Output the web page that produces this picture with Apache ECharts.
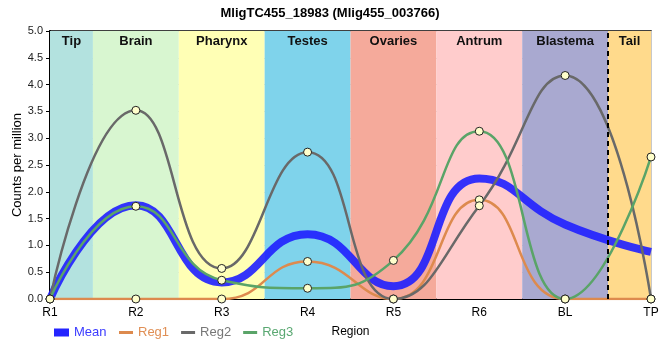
<!DOCTYPE html>
<html><head><meta charset="utf-8">
<script src="https://cdn.jsdelivr.net/npm/echarts@6/dist/echarts.min.js"></script>
<style>html,body{margin:0;padding:0;background:#fff}#c{width:660px;height:360px}</style>
</head><body><div id="c"></div>
<script>
const categories = ['R1','R2','R3','R4','R5','R6','BL','TP'];
const meanVals = [0, 1.75, 0.31, 1.21, 0.24, 2.25, 1.39, 0.88];
const reg1Vals = [0, 0, 0, 0.70, 0, 1.85, 0, 0];
const reg2Vals = [0, 3.52, 0.57, 2.74, 0, 1.74, 4.17, 0];
const reg3Vals = [0, 1.73, 0.35, 0.20, 0.72, 3.13, 0, 2.65];
const regionNames = ['Tip','Brain','Pharynx','Testes','Ovaries','Antrum','Blastema','Tail'];
const regionStart = [0, 0.5, 1.5, 2.5, 3.5, 4.5, 5.5, 6.5];
const regionEnd = [0.5, 1.5, 2.5, 3.5, 4.5, 5.5, 6.5, 7];
const regionColors = ['#b3e2df','#d8f6d0','#ffffb5','#7fd3eb','#f5aa9b','#ffcccc','#a9a9d0','#ffda8c'];
const dashedAt = 6.5;

const toPts = arr => arr.map((v,i)=>[i,v]);
const FONT = 'Liberation Sans, Arial, sans-serif';

const chart = echarts.init(document.getElementById('c'), null, {renderer:'canvas'});
const bandData = regionNames.map((n,i)=>[
  {xAxis: regionStart[i], name: n, itemStyle:{color: regionColors[i], opacity:1}},
  {xAxis: regionEnd[i]}
]);
function regSeries(name, vals, color){
  return {name, type:'line', data: toPts(vals), smooth:0.5, symbol:'circle', symbolSize:8,
    showSymbol:true, color, lineStyle:{color, width:2.5}, itemStyle:{color:'#ffffcc', borderColor:'#222', borderWidth:1},
    emphasis:{disabled:true}, z:3};
}
chart.setOption({
  animation:false,
  backgroundColor:'#fff',
  textStyle:{fontFamily:FONT},
  title:{text:'MligTC455_18983 (Mlig455_003766)', left:'center', top:2,
    textStyle:{fontSize:13, fontWeight:'bold', color:'#000', fontFamily:FONT}},
  grid:{left:50, right:9, top:31, bottom:61, containLabel:false, outerBoundsMode:'none',
    show:true, borderColor:'#000', borderWidth:1.5, backgroundColor:'transparent'},
  legend:[
    {left:49, top:321, itemWidth:15, itemHeight:8, itemGap:12,
      textStyle:{fontSize:13, fontFamily:FONT},
      data:[{name:'Mean', icon:'rect', itemStyle:{color:'#2424ff'}, textStyle:{color:'#3b3bff'}}]},
    {left:114, top:321, itemWidth:14, itemHeight:3, itemGap:12,
      textStyle:{fontSize:13, fontFamily:FONT},
      data:[
        {name:'Reg1', icon:'rect', itemStyle:{color:'#dd8a4e', borderWidth:0}, textStyle:{color:'#e08f55'}},
        {name:'Reg2', icon:'rect', itemStyle:{color:'#696969', borderWidth:0}, textStyle:{color:'#777777'}},
        {name:'Reg3', icon:'rect', itemStyle:{color:'#5aa468', borderWidth:0}, textStyle:{color:'#5aa872'}}
      ]}
  ],
  xAxis:{type:'value', min:0, max:7, interval:1,
    name:'Region', nameLocation:'middle', nameGap:27, nameMoveOverlap:false,
    nameTextStyle:{fontSize:12, color:'#000', fontFamily:FONT},
    axisLine:{show:true, onZero:false, lineStyle:{color:'#000', width:2}},
    axisTick:{show:false},
    axisLabel:{formatter:v=>categories[v]||'', fontSize:12, color:'#000', margin:8, fontFamily:FONT},
    splitLine:{show:true, lineStyle:{color:'#c8c8c8', width:1}}},
  yAxis:{type:'value', min:0, max:5, interval:0.5,
    name:'Counts per million', nameLocation:'middle', nameGap:26, nameMoveOverlap:false,
    nameTextStyle:{fontSize:13, color:'#000', fontFamily:FONT},
    axisLine:{show:true, lineStyle:{color:'#000', width:2}},
    axisTick:{show:true, length:4, lineStyle:{color:'#000'}},
    axisLabel:{formatter:v=>v.toFixed(1), fontSize:11, color:'#222', margin:7, fontFamily:FONT},
    splitLine:{show:true, lineStyle:{color:'#c8c8c8', width:1}}},
  series:[
    {name:'bands', type:'line', data:[], silent:true, z:1,
      markArea:{silent:true, label:{show:true, position:'insideTop', distance:4, fontSize:13, fontWeight:'bold', color:'#111', fontFamily:FONT},
        data: bandData},
      markLine:{silent:true, symbol:'none', label:{show:false},
        lineStyle:{color:'#000', type:[5,4], width:2}, data:[{xAxis:dashedAt}]}},
    regSeries('Reg1', reg1Vals, '#dd8a4e'),
    regSeries('Reg2', reg2Vals, '#696969'),
    regSeries('Reg3', reg3Vals, '#5aa468'),
    {name:'Mean', type:'line', data: toPts(meanVals), smooth:0.5, showSymbol:false, symbol:'none',
      color:'#1f1fff',
      lineStyle:{color:'#1f1fff', width:8, opacity:0.9}, itemStyle:{color:'#1f1fff'}, z:2, emphasis:{disabled:true}}
  ]
});
</script></body></html>
